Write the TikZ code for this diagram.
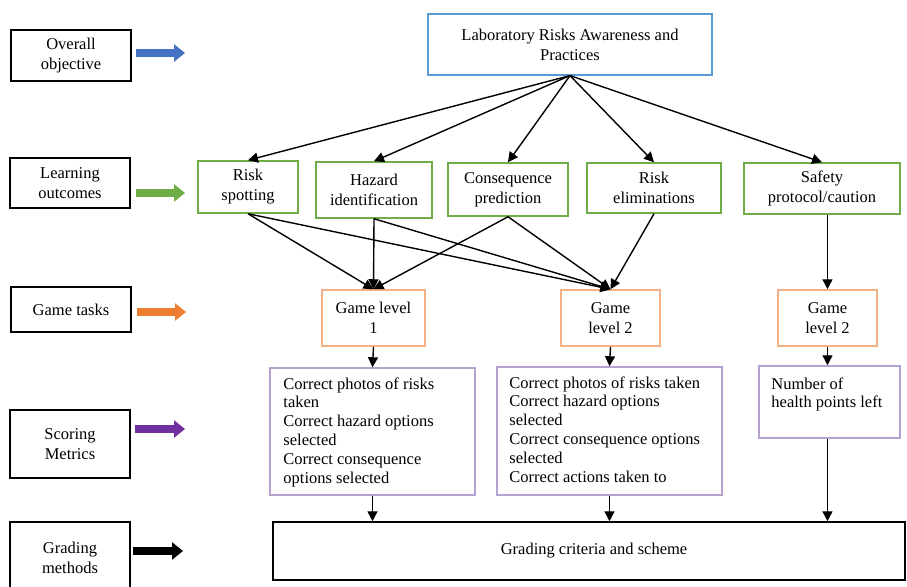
\documentclass[tikz,border=0pt]{standalone}
\usepackage{fontspec}
\setmainfont{Liberation Serif}
\usetikzlibrary{arrows.meta}
\definecolor{objblue}{RGB}{68,114,196}
\definecolor{topblue}{RGB}{91,155,213}
\definecolor{outgreen}{RGB}{112,173,71}
\definecolor{taskorange}{RGB}{237,125,49}
\definecolor{taskline}{RGB}{244,177,131}
\definecolor{metricpurple}{RGB}{112,48,160}
\definecolor{metricline}{RGB}{180,162,210}
\tikzset{
  labelbox/.style={draw=black, line width=1.5pt, minimum width=120pt},
  outbox/.style={draw=outgreen, line width=1.5pt},
  taskbox/.style={draw=taskline, line width=1.5pt, minimum height=56pt},
  metricbox/.style={draw=metricline, line width=1.5pt},
  metrictext/.style={anchor=north west, align=left, font=\fontsize{16.5}{18.8}\selectfont},
  blockarrow/.style={line width=8.5pt, -{Triangle[length=11pt,width=17pt]}},
  link/.style={black, line width=1.4pt, -{Triangle[length=10pt,width=10pt]}}
}
\begin{document}
\begin{tikzpicture}[x=1pt, y=-1pt, every node/.style={font=\fontsize{16.5}{20}\selectfont, inner sep=0pt, align=center}]
\path [use as bounding box, clip] (0,0) rectangle (907,586);
\node [labelbox, minimum height=51pt] (objective) at (71,55.5) {Overall\\objective};
\node [labelbox, minimum height=50pt] (outcomes) at (70,183) {Learning\\outcomes};
\node [labelbox, minimum height=45pt] (tasks) at (71,309.5) {Game tasks};
\node [labelbox, minimum height=68pt] (metrics) at (70,444) {Scoring\\Metrics};
\node [labelbox, minimum height=72pt] (methods) at (70,558) {Grading\\methods};
\draw [blockarrow, objblue] (136,53) -- (185,53);
\draw [blockarrow, outgreen] (136,193) -- (185,193);
\draw [blockarrow, taskorange] (137,312) -- (186,312);
\draw [blockarrow, metricpurple] (135,429) -- (185,429);
\draw [blockarrow, black] (133,551) -- (183,551);
\node [draw=topblue, line width=1.2pt, minimum width=284pt, minimum height=61pt] (lab) at (570,44.5) {Laboratory Risks Awareness and\\Practices};
\node [outbox, minimum width=100pt, minimum height=52pt] (spot) at (248,187) {Risk\\spotting};
\node [outbox, minimum width=116pt, minimum height=56pt] (hazard) at (374,190) {Hazard\\identification};
\node [outbox, minimum width=120pt, minimum height=53pt] (conseq) at (508,189.5) {Consequence\\prediction};
\node [outbox, minimum width=134pt, minimum height=50pt] (elim) at (654,188) {Risk\\eliminations};
\node [outbox, minimum width=156pt, minimum height=51pt] (safety) at (822,188.5) {Safety\\protocol/caution};
\node [taskbox, minimum width=103pt] (levela) at (373.5,318) {Game level\\1};
\node [taskbox, minimum width=99pt] (levelb) at (610.5,318) {Game\\level 2};
\node [taskbox, minimum width=99pt] (levelc) at (827.5,318) {Game\\level 2};
\node [metricbox, minimum width=205pt, minimum height=127pt] (scorea) at (372.5,431.5) {};
\node [metricbox, minimum width=225pt, minimum height=128pt] (scoreb) at (609.5,431) {};
\node [metricbox, minimum width=141pt, minimum height=72pt] (scorec) at (829.5,402) {};
\node [metrictext] (scoreatext) at ([shift={(14pt,-10pt)}]scorea.north west) {Correct photos of risks\\taken\\Correct hazard options\\selected\\Correct consequence\\options selected};
\node [metrictext] (scorebtext) at ([shift={(13pt,-10pt)}]scoreb.north west) {Correct photos of risks taken\\Correct hazard options\\selected\\Correct consequence options\\selected\\Correct actions taken to};
\node [metrictext] (scorectext) at ([shift={(13pt,-12pt)}]scorec.north west) {Number of\\health points left};
\node [draw=black, line width=1.5pt, minimum width=632pt, minimum height=58pt] (grading) at (589,551) {\hspace*{10pt}Grading criteria and scheme};
\draw [link] (lab.south) -- (spot.north);
\draw [link] (lab.south) -- (hazard.north);
\draw [link] (lab.south) -- (conseq.north);
\draw [link] (lab.south) -- (elim.north);
\draw [link] (lab.south) -- (safety.north);
\draw [link] (spot.south) -- (levela.north);
\draw [link] (spot.south) -- (levelb.north);
\draw [link] (hazard.south) -- (levela.north);
\draw [link] (hazard.south) -- (levelb.north);
\draw [link] (conseq.south) -- (levela.north);
\draw [link] (conseq.south) -- (levelb.north);
\draw [link] (elim.south) -- (levelb.north);
\draw [link] (levelc.north |- safety.south) -- (levelc.north);
\draw [link] (levela.south) -- (scorea.north);
\draw [link] (levelb.south) -- (scoreb.north);
\draw [link] (levelc.south) -- (levelc.south |- scorec.north);
\draw [link] (scorea.south) -- (scorea.south |- grading.north);
\draw [link] (scoreb.south) -- (scoreb.south |- grading.north);
\draw [link] (levelc.south |- scorec.south) -- (levelc.south |- grading.north);
\end{tikzpicture}
\end{document}
